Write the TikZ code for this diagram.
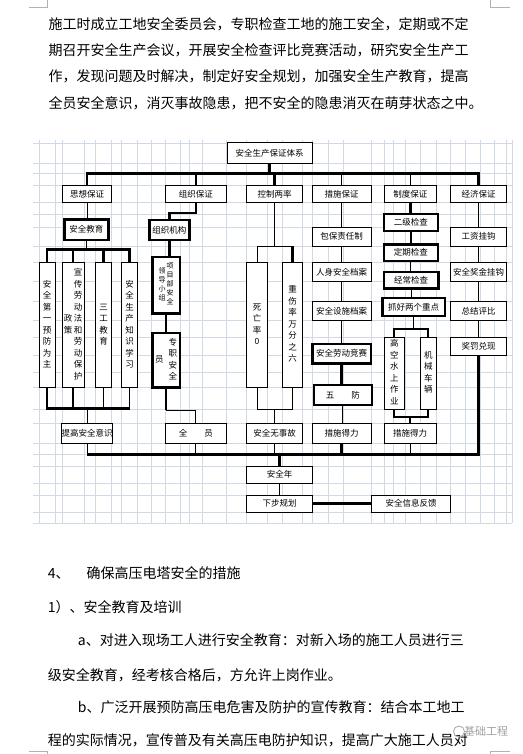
\documentclass[tikz,border=0pt]{standalone}
\usepackage{fontspec}
\newfontfamily\cjk{Noto Sans CJK SC}
\XeTeXlinebreaklocale "zh"
\XeTeXlinebreakskip=0pt plus 3pt
\newcommand{\diagfont}{\cjk\fontsize{8.5}{11.5}\selectfont}
\newcommand{\tinyfont}{\cjk\fontsize{7}{9}\selectfont}
\newcommand{\parafont}{\cjk\fontsize{14}{16}\selectfont}
\newcommand{\vtxt}[1]{\begin{tabular}[c]{@{}c@{}}#1\end{tabular}}
\definecolor{gridblue}{RGB}{210,217,230}
\tikzset{
  box/.style={draw, fill=white, line width=0.9pt, inner sep=0pt, font=\diagfont},
  boldbox/.style={box, line width=2.4pt},
  thn/.style={line width=0.9pt},
  thk/.style={line width=2.6pt},
  midl/.style={line width=1.8pt},
  gridline/.style={gridblue, line width=0.8pt},
  paraline/.style={anchor=west, font=\parafont, inner sep=0pt},
}

\begin{document}
\begin{tikzpicture}[x=1pt, y=-1pt]
  \useasboundingbox (0,0) rectangle (522,754);

  % page corners
  \draw[gray!60, line width=0.7pt] (29.3,7.3) -- (47.7,7.3) -- (47.7,0);
  \draw[gray!60, line width=0.7pt] (510,7.3) -- (490.7,7.3) -- (490.7,0);
  \draw[gray!60, line width=0.7pt] (29.3,751) -- (47.7,751) -- (47.7,754);
  \draw[gray!60, line width=0.7pt] (510,751) -- (490.7,751) -- (490.7,754);

  % paragraph above
  \node[paraline] (p1) at (48.3,24) {\makebox[441.7pt][s]{施工时成立工地安全委员会，专职检查工地的施工安全，定期或不定}};
  \node[paraline] (p2) at (48.3,50) {\makebox[441.7pt][s]{期召开安全生产会议，开展安全检查评比竞赛活动，研究安全生产工}};
  \node[paraline] (p3) at (48.3,76.7) {\makebox[441.7pt][s]{作，发现问题及时解决，制定好安全规划，加强安全生产教育，提高}};
  \node[paraline] (p4) at (48.3,103.3) {\makebox[441.7pt][s]{全员安全意识，消灭事故隐患，把不安全的隐患消灭在萌芽状态之中。}};

  % sheet grid
  \foreach \x in {39.3,55,62.3,84.3,95.7,111.7,121.7,137.3,151.7,165,180,189.3,202.3,226.7,246.7,267.3,282.7,302.3,312.3,328,343,371.7,384,393,405,420.7,436.7,450.7,465,480,494,506.7,512}
    \draw[gridline] (\x,140) -- (\x,523.3);
  \foreach \y in {143,163.3,173.3,185.7,202.3,214,227.3,246,262.7,281,301,320.7,337.3,355,372,387.3,409.3,423.3,443.3,454.7,466,483.3,495,512.3,523.3}
    \draw[gridline] (33,\y) -- (512,\y);

  % top
  \node[box, minimum width=85pt, minimum height=20.3pt] (top) at (269.5,153) {安全生产保证体系};

  % second row
  \node[box, minimum width=49.4pt, minimum height=16.6pt] (sx) at (87,194) {思想保证};
  \node[box, minimum width=61.7pt, minimum height=16.6pt] (zz) at (195.85,194) {组织保证};
  \node[box, minimum width=55.6pt, minimum height=16.6pt] (kz) at (274.5,194) {控制两率};
  \node[box, minimum width=58.7pt, minimum height=16.6pt] (cs) at (341.65,194) {措施保证};
  \node[box, minimum width=52.7pt, minimum height=16.6pt] (zd) at (410.35,194) {制度保证};
  \node[box, minimum width=56pt, minimum height=16.6pt] (jj) at (478.7,194) {经济保证};

  % 思想保证
  \node[boldbox, minimum width=44pt, minimum height=20.7pt] (aqjy) at (86.3,229.65) {安全教育};
  \node[box, minimum width=15.7pt, minimum height=124.6pt] (v1) at (47.15,325) {\vtxt{安\\全\\第\\一\\预\\防\\为\\主}};
  \node[box, minimum width=21.7pt, minimum height=124.6pt] (v2) at (73.15,325) {\vtxt{政\\策}\hspace{1.5pt}\vtxt{宣\\传\\劳\\动\\法\\和\\劳\\动\\保\\护}};
  \node[box, minimum width=16pt, minimum height=124.6pt] (v3) at (103.7,325) {\vtxt{三\\工\\教\\育}};
  \node[box, minimum width=15.6pt, minimum height=124.6pt] (v4) at (129.5,325) {\vtxt{安\\全\\生\\产\\知\\识\\学\\习}};
  \node[box, minimum width=49.4pt, minimum height=20pt] (tg) at (87,433.3) {提高安全意识};

  % 组织保证
  \node[boldbox, minimum width=40pt, minimum height=20pt] (zjjg) at (169.3,230) {组织机构};
  \node[boldbox, minimum width=27.7pt, minimum height=56.6pt, font=\tinyfont] (xm) at (166.15,285) {\vtxt{领\\导\\小\\组}\hspace{1pt}\vtxt{项\\目\\部\\安\\全}};
  \node[boldbox, minimum width=27.7pt, minimum height=54.6pt] (zzaq) at (166.15,360) {\vtxt{员}\hspace{5pt}\vtxt{专\\职\\安\\全}};
  \node[box, minimum width=61.7pt, minimum height=20pt] (qy) at (195.85,433.3) {全\hspace{17pt}员};

  % 控制两率
  \node[box, minimum width=20.6pt, minimum height=124.6pt] (swl) at (257,325) {\vtxt{死\\亡\\率\\0}};
  \node[box, minimum width=19.6pt, minimum height=124.6pt] (zsl) at (292.5,325) {\vtxt{重\\伤\\率\\万\\分\\之\\六}};
  \node[box, minimum width=55.6pt, minimum height=20pt] (aqwsg) at (274.5,433.3) {安全无事故};

  % 措施保证
  \node[box, minimum width=58.7pt, minimum height=18.7pt] (bbzr) at (341.65,236.65) {包保责任制};
  \node[box, minimum width=58.7pt, minimum height=18.3pt] (rsaq) at (341.65,271.85) {人身安全档案};
  \node[box, minimum width=58.7pt, minimum height=19.7pt] (aqss) at (341.65,310.85) {安全设施档案};
  \node[boldbox, minimum width=58.7pt, minimum height=19.3pt] (aqld) at (341.65,353.65) {安全劳动竞赛};
  \node[boldbox, minimum width=57.7pt, minimum height=20pt] (wf) at (342.85,395) {五\hspace{17pt}防};
  \node[box, minimum width=58.7pt, minimum height=20pt] (csdl1) at (341.65,433.3) {措施得力};

  % 制度保证
  \node[boldbox, minimum width=53.7pt, minimum height=16.7pt] (ejjc) at (410.85,222.35) {二级检查};
  \node[boldbox, minimum width=53.7pt, minimum height=16.7pt] (dqjc) at (410.85,252.65) {定期检查};
  \node[boldbox, minimum width=54.3pt, minimum height=16.6pt] (jcjc) at (411.15,280) {经常检查};
  \node[boldbox, minimum width=62.7pt, minimum height=18.3pt] (zhlg) at (413.65,306.85) {抓好两个重点};
  \node[box, minimum width=20pt, minimum height=72pt] (gk) at (394.3,373.3) {\vtxt{高\\空\\水\\上\\作\\业}};
  \node[box, minimum width=15.3pt, minimum height=72pt] (jx) at (428.35,373.3) {\vtxt{机\\械\\车\\辆}};
  \node[box, minimum width=51.7pt, minimum height=20pt] (csdl2) at (410.15,433.3) {措施得力};

  % 经济保证
  \node[box, minimum width=56pt, minimum height=18.7pt] (gzgg) at (478.7,236.65) {工资挂钩};
  \node[box, minimum width=56pt, minimum height=18.3pt] (aqjj) at (478.7,271.85) {安全奖金挂钩};
  \node[box, minimum width=56pt, minimum height=19.7pt] (zjpb) at (478.7,310.85) {总结评比};
  \node[box, minimum width=56pt, minimum height=17.7pt] (jfdx) at (478.7,346.15) {奖罚兑现};

  % bottom
  \node[box, minimum width=65.6pt, minimum height=17.3pt] (aqn) at (279.5,474.65) {安全年};
  \node[box, minimum width=65.6pt, minimum height=17.3pt] (xbgh) at (279.5,503.65) {下步规划};
  \node[box, minimum width=79pt, minimum height=17.3pt] (xxfk) at (411.2,503.65) {安全信息反馈};

  % connectors, top level
  \coordinate (b0) at (0,173.3);
  \draw[thk] (top.south) -- (top.south |- b0);
  \draw[thk] (sx.north) -- (sx.north |- b0) -- (jj.north |- b0) -- (jj.north);
  \foreach \n in {zz,kz} \draw[thk] (\n.north |- b0) -- (\n.north);
  \foreach \n in {cs,zd} \draw[thn] (\n.north |- b0) -- (\n.north);

  % 思想保证
  \draw[thn] (sx.south) -- (sx.south |- aqjy.north);
  \coordinate (b1) at (0,249.3);
  \draw[thn] (aqjy.south) -- (aqjy.south |- b1);
  \draw[thk] (v1.north) -- (v1.north |- b1) -- (v4.north |- b1) -- (v4.north);
  \foreach \n in {v2,v3} \draw[thk] (\n.north |- b1) -- (\n.north);
  \coordinate (b2) at (0,408.3);
  \draw[thk] (v1.south) -- (v1.south |- b2) -- (v4.south |- b2);
  \draw[thk] (v2.south) -- (v2.south |- b2);
  \foreach \n in {v3,v4} \draw[thn] (\n.south) -- (\n.south |- b2);
  \draw[thn] (tg.north |- b2) -- (tg.north);

  % 组织保证
  \draw[thk] (zz.south) -- ++(0,10.4) -| (zjjg.north);
  \draw[thk] (zjjg.south) -- (zjjg.south |- xm.north);
  \draw[thk] (xm.south) -- (zzaq.north);
  \coordinate (b3) at (0,410);
  \draw[thk] (zzaq.south) -- (zzaq.south |- b3);
  \draw[thn] (zzaq.south |- b3) -| (qy.north);

  % 控制两率
  \coordinate (k1) at (0,246);
  \draw[thn] (kz.south) -- (kz.south |- k1);
  \draw[thn] (swl.north) -- (swl.north |- k1) -- (zsl.north |- k1);
  \draw[thk] (zsl.north |- k1) -- (zsl.north);
  \coordinate (k2) at (0,409.3);
  \draw[thn] (swl.south) -- (swl.south |- k2) -- (zsl.south |- k2) -- (zsl.south);
  \draw[thn] (aqwsg.north |- k2) -- (aqwsg.north);

  % 措施保证
  \draw[thn] (cs.south) -- (bbzr.north);
  \draw[thn] (bbzr.south) -- (rsaq.north);
  \draw[thn] (rsaq.south) -- (aqss.north);
  \draw[thn] (aqss.south) -- (aqld.north);
  \draw[thk] (aqld.south) -- (aqld.south |- wf.north);
  \draw[thn] (wf.south) -- (wf.south |- csdl1.north);

  % 制度保证
  \draw[thk] (zd.south) -- (zd.south |- ejjc.north);
  \draw[thk] (ejjc.south) -- (ejjc.south |- dqjc.north);
  \draw[thn] (dqjc.south) -- (dqjc.south |- jcjc.north);
  \draw[thn] (jcjc.south) -- (jcjc.south |- zhlg.north);
  \coordinate (z1) at (0,328.7);
  \draw[thn] (zhlg.south) -- (zhlg.south |- z1);
  \draw[midl] (gk.north) -- (gk.north |- z1) -- (jx.north |- z1) -- (jx.north);
  \coordinate (z2) at (0,416.7);
  \draw[midl] (gk.south) -- (gk.south |- z2) -- (jx.south |- z2) -- (jx.south);
  \draw[midl] (csdl2.north |- z2) -- (csdl2.north);

  % 经济保证
  \draw[thn] (jj.south) -- (gzgg.north);
  \draw[thn] (gzgg.south) -- (aqjj.north);
  \draw[thn] (aqjj.south) -- (zjpb.north);
  \draw[thn] (zjpb.south) -- (jfdx.north);

  % lower bus
  \coordinate (bm) at (0,454.7);
  \draw[thn] (tg.south) -- (tg.south |- bm);
  \draw[thk] (tg.south |- bm) -- (jfdx.south |- bm) -- (jfdx.south);
  \draw[thn] (qy.south) -- (qy.south |- bm);
  \draw[thn] (aqwsg.south) -- (aqwsg.south |- bm);
  \draw[thk] (csdl1.south) -- (csdl1.south |- bm);
  \draw[thn] (csdl2.south) -- (csdl2.south |- bm);
  \draw[thk] (aqn.north |- bm) -- (aqn.north);
  \draw[thn] (aqn.south) -- (xbgh.north);
  \draw[thk] (xbgh.east) -- (xxfk.west);

  % text below
  \node[paraline] (q1) at (47.7,573.3) {4、\hspace{17pt}确保高压电塔安全的措施};
  \node[paraline] (q2) at (47.7,606.7) {1）、安全教育及培训};
  \node[paraline] (q3) at (77.7,640) {\makebox[412.3pt][s]{a、对进入现场工人进行安全教育：对新入场的施工人员进行三}};
  \node[paraline] (q4) at (47.7,675) {级安全教育，经考核合格后，方允许上岗作业。};
  \node[paraline] (q5) at (77.7,706.7) {\makebox[412.3pt][s]{b、广泛开展预防高压电危害及防护的宣传教育：结合本工地工}};
  \node[paraline] (q6) at (47.7,740) {\makebox[442.3pt][s]{程的实际情况，宣传普及有关高压电防护知识，提高广大施工人员对}};

  % watermark
  \draw[gray!70, line width=0.8pt] (459,731.5) circle (5.5);
  \node[font=\cjk\fontsize{11}{11}\selectfont, text=gray!75, inner sep=0pt] (wm) at (486,731.5) {基础工程};
\end{tikzpicture}
\end{document}
